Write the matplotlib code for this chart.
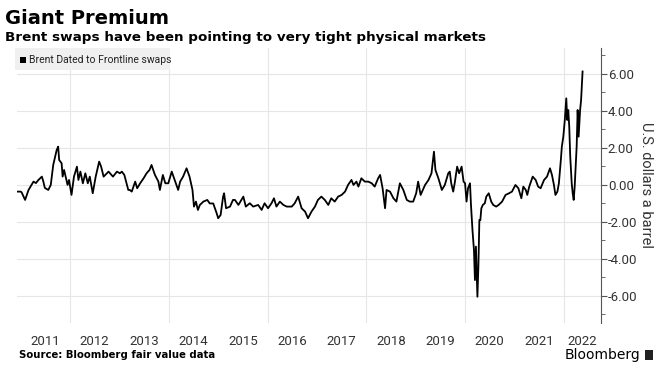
import matplotlib.pyplot as plt
import matplotlib.patches as mpatches
import numpy as np

plt.rcParams["font.family"] = ["Roboto", "DejaVu Sans"]
plt.rcParams["font.stretch"] = "condensed"

# Brent Dated to Frontline swaps (decimal year, US$/bbl)
t = [2010.93, 2011.00, 2011.02, 2011.09, 2011.16, 2011.26, 2011.31, 2011.36, 2011.43, 2011.46,
     2011.49, 2011.56, 2011.61, 2011.66, 2011.73, 2011.76, 2011.78, 2011.83, 2011.85, 2011.88,
     2011.95, 2011.98, 2012.03, 2012.08, 2012.14, 2012.17, 2012.21, 2012.26, 2012.31, 2012.36,
     2012.40, 2012.46, 2012.52, 2012.59, 2012.63, 2012.68, 2012.78, 2012.87, 2012.95, 2013.01,
     2013.05, 2013.10, 2013.18, 2013.21, 2013.25, 2013.32, 2013.36, 2013.42, 2013.49, 2013.55,
     2013.61, 2013.65, 2013.72, 2013.79, 2013.82, 2013.88, 2013.93, 2013.99, 2014.06, 2014.12,
     2014.19, 2014.23, 2014.29, 2014.36, 2014.42, 2014.48, 2014.51, 2014.55, 2014.59, 2014.63,
     2014.70, 2014.78, 2014.83, 2014.90, 2014.97, 2015.00, 2015.05, 2015.10, 2015.12, 2015.16,
     2015.24, 2015.30, 2015.34, 2015.41, 2015.51, 2015.56, 2015.64, 2015.71, 2015.81, 2015.88,
     2015.94, 2016.01, 2016.08, 2016.13, 2016.18, 2016.25, 2016.32, 2016.39, 2016.49, 2016.55,
     2016.62, 2016.69, 2016.76, 2016.82, 2016.89, 2016.96, 2017.02, 2017.09, 2017.16, 2017.23,
     2017.29, 2017.36, 2017.43, 2017.50, 2017.57, 2017.63, 2017.70, 2017.74, 2017.80, 2017.84,
     2017.90, 2017.97, 2018.04, 2018.11, 2018.17, 2018.24, 2018.28, 2018.33, 2018.38, 2018.41,
     2018.48, 2018.55, 2018.61, 2018.68, 2018.75, 2018.82, 2018.88, 2018.95, 2019.01, 2019.05,
     2019.10, 2019.19, 2019.26, 2019.32, 2019.37, 2019.40, 2019.46, 2019.53, 2019.59, 2019.66,
     2019.69, 2019.72, 2019.76, 2019.79, 2019.84, 2019.88, 2019.93, 2019.97, 2020.00, 2020.03,
     2020.06, 2020.10, 2020.12, 2020.15, 2020.18, 2020.20, 2020.22, 2020.25, 2020.27, 2020.29,
     2020.31, 2020.33, 2020.36, 2020.40, 2020.43, 2020.48, 2020.53, 2020.57, 2020.63, 2020.68,
     2020.75, 2020.82, 2020.89, 2020.95, 2021.02, 2021.08, 2021.14, 2021.18, 2021.23, 2021.26,
     2021.30, 2021.37, 2021.43, 2021.48, 2021.53, 2021.60, 2021.66, 2021.72, 2021.76, 2021.80,
     2021.83, 2021.87, 2021.90, 2021.94, 2021.96, 2021.99, 2022.02, 2022.05, 2022.07, 2022.09,
     2022.11, 2022.13, 2022.16, 2022.18, 2022.20, 2022.22, 2022.24, 2022.26, 2022.28, 2022.30,
     2022.33, 2022.35, 2022.38]
v = [-0.36, -0.36, -0.40, -0.81, -0.27, 0.18, 0.10, 0.27, 0.45, 0.18,
     -0.16, -0.27, 0.00, 1.08, 1.89, 2.07, 1.35, 1.17, 0.45, 0.81,
     0.00, 0.27, -0.54, 0.45, 0.99, 0.27, 0.72, 0.09, 0.63, 0.09,
     0.45, -0.45, 0.45, 1.26, 0.99, 0.45, 0.72, 0.45, 0.72, 0.63,
     0.72, 0.54, -0.27, -0.27, -0.36, 0.18, -0.18, 0.09, 0.36, 0.63,
     0.81, 1.08, 0.54, 0.18, -0.27, 0.54, 0.09, 0.09, 0.72, 0.27,
     -0.27, 0.18, 0.45, 0.90, 0.45, -0.27, -1.17, -0.90, -1.35, -1.08,
     -0.90, -0.81, -1.00, -1.00, -1.53, -1.80, -1.62, -0.63, -0.45, -1.26,
     -1.17, -0.81, -0.81, -1.08, -0.63, -1.17, -0.99, -1.17, -1.08, -1.35,
     -0.99, -1.26, -0.99, -0.72, -1.17, -0.90, -1.08, -1.17, -1.17, -0.99,
     -0.63, -1.26, -1.44, -1.80, -1.44, -1.17, -0.81, -0.63, -0.81, -1.08,
     -0.72, -0.90, -0.63, -0.54, -0.36, 0.00, 0.27, 0.00, 0.18, -0.09,
     0.36, 0.18, 0.18, 0.09, -0.09, 0.36, 0.54, -0.18, -1.26, -0.27,
     -0.36, -0.72, -0.90, 0.09, -0.27, -0.81, -0.90, -0.90, -0.45, 0.18,
     -0.54, 0.00, 0.27, 0.63, 1.80, 0.81, 0.36, -0.27, 0.00, 0.63,
     0.72, 0.09, -0.36, 0.09, 0.99, 0.63, 0.99, 0.18, 0.09, -0.90,
     -0.18, 0.09, -1.08, -2.43, -3.51, -5.14, -3.33, -6.04, -4.41, -1.89,
     -1.89, -1.26, -1.08, -0.99, -0.63, -0.45, -0.90, -1.08, -1.17, -1.08,
     -0.90, -0.54, -0.45, -0.36, 0.00, -0.18, -0.72, -0.09, -0.27, -0.54,
     -0.09, 0.45, 0.27, -0.09, -0.18, 0.27, 0.45, 0.90, 0.54, 0.00,
     -0.54, -0.36, 0.09, 1.35, 2.07, 2.61, 3.51, 4.68, 3.51, 4.05,
     3.15, 1.53, 0.09, -0.45, -0.81, -0.09, 0.99, 2.07, 4.05, 2.61,
     4.05, 4.59, 6.13]

years = list(range(2011, 2023))
year_pos = [y + 0.5 for y in years]
year_pos[-1] = 2022.37
grid_years = [2012, 2014, 2016, 2018, 2020, 2022]
yticks = [-6, -4, -2, 0, 2, 4, 6]

fig = plt.figure(figsize=(6.61, 3.78), dpi=100)
ax = fig.add_axes([0.026, 0.146, 0.883, 0.727])

ax.plot(t, v, color="black", lw=1.3, label="Brent Dated to Frontline swaps")

ax.set_xlim(2010.93, 2022.75)
ax.set_ylim(-7.45, 7.4)

# grid
for g in grid_years:
    ax.axvline(g, color="#e6e6e6", lw=0.8, zorder=0)
for yv in yticks:
    ax.axhline(yv, color="#e6e6e6", lw=0.8, zorder=0)

# spines / ticks
for s in ["left", "top", "bottom"]:
    ax.spines[s].set_visible(False)
ax.spines["right"].set_color("#555555")
ax.yaxis.tick_right()
ax.yaxis.set_label_position("right")
ax.set_yticks(yticks)
ax.set_yticklabels([f"{y:.2f}" for y in yticks])
ax.set_yticks(np.arange(-7, 8, 2), minor=True)
ax.tick_params(axis="y", which="major", length=4, color="#555555", labelsize=9.5,
               labelcolor="#333333", pad=1)
ax.tick_params(axis="y", which="minor", length=3, color="#555555")
ax.set_ylabel("U.S. dollars a barrel", rotation=270, fontsize=10.5, color="#333333",
              labelpad=11)

ax.set_xticks(year_pos)
ax.set_xticklabels([str(y) for y in years])
ax.tick_params(axis="x", length=0, labelsize=9.5, labelcolor="#333333", pad=9)

# legend box
fig.patches.append(mpatches.Rectangle((15 / 661, 1 - 70 / 378), 155 / 661, 22 / 378,
                                      transform=fig.transFigure, facecolor="#f0f0f0",
                                      edgecolor="none"))
fig.patches.append(mpatches.Rectangle((20 / 661, 1 - 63 / 378), 6 / 661, 6 / 378,
                                      transform=fig.transFigure, facecolor="black",
                                      edgecolor="none"))
fig.text(29 / 661, 1 - 60 / 378, "Brent Dated to Frontline swaps", fontsize=7.5,
         color="#222222", va="center")

fig.text(5 / 661, 1 - 18 / 378, "Giant Premium", fontsize=14, fontweight="bold", va="center",
         family="DejaVu Sans", stretch="normal")
fig.text(5 / 661, 1 - 38 / 378, "Brent swaps have been pointing to very tight physical markets",
         fontsize=9.7, fontweight="bold", va="center", family="DejaVu Sans", stretch="normal")
fig.text(19 / 661, 1 - 355 / 378, "Source: Bloomberg fair value data", fontsize=7.3,
         fontweight="bold", va="center", family="DejaVu Sans", stretch="normal")
fig.text(640 / 661, 1 - 355 / 378, "Bloomberg", fontsize=10, ha="right", va="center",
         family="DejaVu Sans", stretch="normal")
fig.patches.append(mpatches.Rectangle((645 / 661, 1 - 360 / 378), 8 / 661, 10 / 378,
                                      transform=fig.transFigure, facecolor="#222222",
                                      edgecolor="none"))

fig.savefig("out.png", dpi=100)
